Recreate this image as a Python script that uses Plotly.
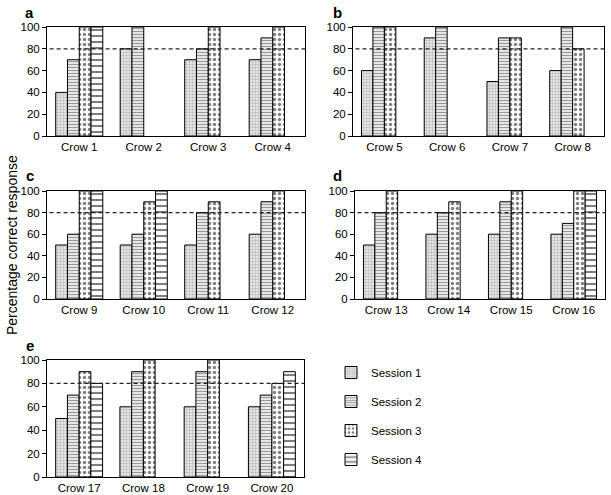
import plotly.graph_objects as go

W, H = 611, 495

panels = ["a", "b", "c", "d", "e"]
crows = [
    ["Crow 1", "Crow 2", "Crow 3", "Crow 4"],
    ["Crow 5", "Crow 6", "Crow 7", "Crow 8"],
    ["Crow 9", "Crow 10", "Crow 11", "Crow 12"],
    ["Crow 13", "Crow 14", "Crow 15", "Crow 16"],
    ["Crow 17", "Crow 18", "Crow 19", "Crow 20"],
]
sessions = ["Session 1", "Session 2", "Session 3", "Session 4"]

# values per panel, per session (list over crows); None = no bar
session1 = [[40, 80, 70, 70], [60, 90, 50, 60], [50, 50, 50, 60], [50, 60, 60, 60], [50, 60, 60, 60]]
session2 = [[70, 100, 80, 90], [100, 100, 90, 100], [60, 60, 80, 90], [80, 80, 90, 70], [70, 90, 90, 70]]
session3 = [[100, None, 100, 100], [100, None, 90, 80], [100, 90, 90, 100], [100, 90, 100, 100], [90, 100, 100, 80]]
session4 = [[100, None, None, None], [None, None, None, None], [100, 100, None, None], [None, None, None, 100], [80, None, None, 90]]
criterion = 80

series = [session1, session2, session3, session4]

patterns = [
    dict(shape=".", fgcolor="#8a8a8a", bgcolor="#efefef", size=3, solidity=0.5),
    dict(shape="-", fgcolor="#333333", bgcolor="#ffffff", size=3, solidity=0.5),
    dict(shape=".", fgcolor="#000000", bgcolor="#ffffff", size=5, solidity=0.35),
    dict(shape="-", fgcolor="#000000", bgcolor="#ffffff", size=6, solidity=0.35),
]

# pixel boxes of each panel: (left, right, top, bottom)
boxes = [
    (47, 305, 27, 136),
    (353, 604, 27, 136),
    (47, 305, 191, 299),
    (355, 605, 191, 299),
    (47, 304, 360, 477),
]
label_pos = [(30, 12), (337, 12), (30, 175), (337, 175), (30, 345)]

fig = go.Figure()
font = "Liberation Sans, Arial, sans-serif"

for p in range(5):
    xa = "x" if p == 0 else f"x{p+1}"
    ya = "y" if p == 0 else f"y{p+1}"
    for s in range(4):
        fig.add_trace(go.Bar(
            x=crows[p], y=series[s][p], name=sessions[s],
            xaxis=xa, yaxis=ya,
            marker=dict(color="#ffffff", line=dict(color="#000000", width=1), pattern=patterns[s]),
            showlegend=(p == 0), legendgroup=sessions[s],
        ))
    l, r, t, b = boxes[p]
    suffix = "" if p == 0 else str(p + 1)
    fig.layout["xaxis" + suffix] = dict(
        domain=[l / W, r / W], anchor=ya, showline=True, mirror=True, linecolor="#000000",
        linewidth=1, ticks="", tickfont=dict(size=11.5, color="#000000", family=font),
        showgrid=False, fixedrange=True, automargin=False,
    )
    fig.layout["yaxis" + suffix] = dict(
        domain=[1 - b / H, 1 - t / H], anchor=xa, range=[0, 100], dtick=20,
        showline=True, mirror=True, linecolor="#000000", linewidth=1,
        ticks="outside", ticklen=4, tickcolor="#000000", automargin=False,
        tickfont=dict(size=11.5, color="#000000", family=font), showgrid=False, zeroline=False,
    )
    fig.add_shape(type="line", xref=xa + " domain", yref=ya, x0=0.01, x1=1, y0=criterion, y1=criterion,
                  line=dict(color="#222222", width=1.2, dash="4px,3px"))
    lx, ly = label_pos[p]
    fig.add_annotation(text=f"<b>{panels[p]}</b>", xref="paper", yref="paper", x=lx / W, y=1 - ly / H,
                       xanchor="center", yanchor="middle", showarrow=False,
                       font=dict(size=15, color="#000000", family=font))

fig.add_annotation(text="Percentage correct response", xref="paper", yref="paper",
                   x=12 / W, y=1 - 245 / H, textangle=-90, showarrow=False,
                   xanchor="center", yanchor="middle", font=dict(size=14, color="#000000", family=font))

fig.update_layout(
    width=W, height=H, margin=dict(l=0, r=0, t=0, b=0),
    paper_bgcolor="#ffffff", plot_bgcolor="#ffffff",
    barmode="group", bargap=0.27, bargroupgap=0,
    legend=dict(x=331 / W, y=1 - 358 / H, xanchor="left", yanchor="top",
                font=dict(size=11.5, color="#000000", family=font),
                tracegroupgap=10, itemwidth=30, bgcolor="rgba(0,0,0,0)"),
    font=dict(family=font),
)

fig.write_html("out.html", config={"displayModeBar": False},
               post_script="document.body.style.margin='0';document.body.style.overflow='hidden';")
